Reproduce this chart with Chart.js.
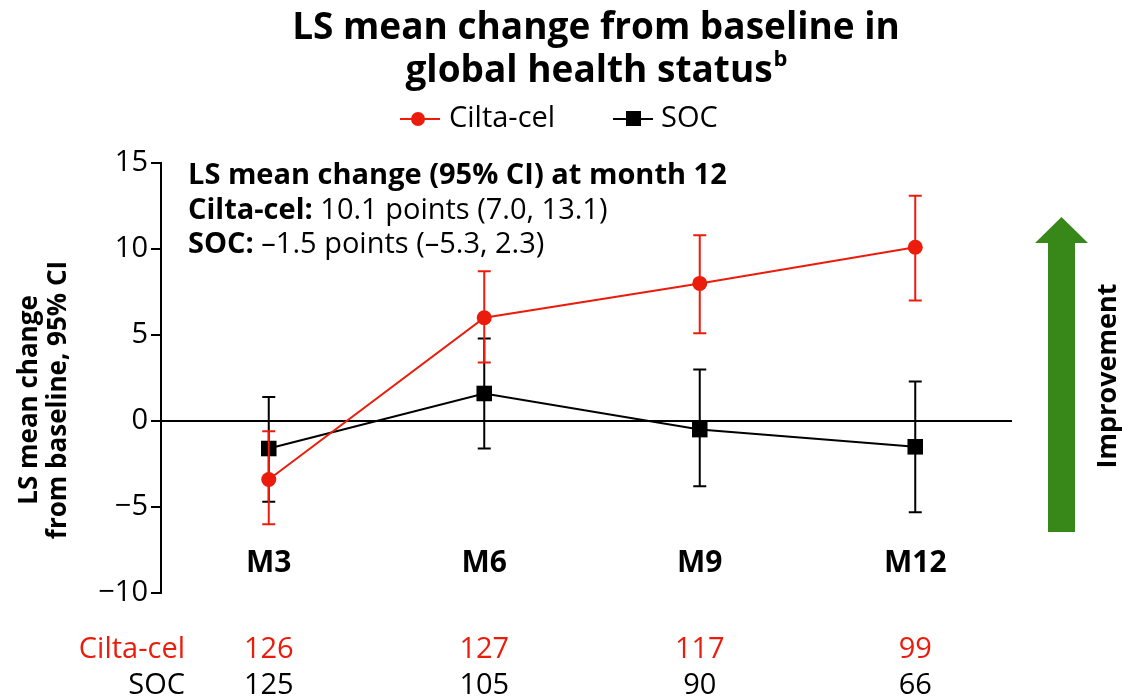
<!DOCTYPE html>
<html lang="en">
<head>
  <meta charset="UTF-8" />
  <title>LS mean change from baseline in global health status</title>
  <script src="https://cdn.jsdelivr.net/npm/chart.js"></script>
  <style>
    html, body { margin: 0; padding: 0; background: #fff; }
    #wrap { width: 1122px; height: 699px; position: relative; }
  </style>
</head>
<body>
  <div id="wrap"><canvas id="chart" width="1122" height="699"></canvas></div>

  <script>
    const categories = ['M3', 'M6', 'M9', 'M12'];
    const ciltaMean = [-3.4, 6.0, 8.0, 10.1];
    const ciltaLow  = [-6.0, 3.4, 5.1, 7.0];
    const ciltaHigh = [-0.6, 8.7, 10.8, 13.1];
    const socMean = [-1.6, 1.6, -0.5, -1.5];
    const socLow  = [-4.7, -1.6, -3.8, -5.3];
    const socHigh = [1.4, 4.8, 3.0, 2.3];
    const ciltaN = [126, 127, 117, 99];
    const socN = [125, 105, 90, 66];
    const yMin = -10, yMax = 15, yStep = 5;

    const RED = '#eb1c0c';
    const BLACK = '#000';
    const GREEN = '#378719';
    const FONT = "'Open Sans', sans-serif";

    // error bars, drawn right after each dataset
    const errorBars = {
      id: 'errorBars',
      afterDatasetDraw(chart, args) {
        const ds = chart.data.datasets[args.index];
        const meta = args.meta;
        const y = chart.scales.y;
        const ctx = chart.ctx;
        ctx.save();
        ctx.strokeStyle = ds.borderColor;
        ctx.lineWidth = 2;
        meta.data.forEach((pt, i) => {
          const x = pt.x;
          const lo = y.getPixelForValue(ds.low[i]);
          const hi = y.getPixelForValue(ds.high[i]);
          ctx.beginPath();
          ctx.moveTo(x, lo); ctx.lineTo(x, hi);
          ctx.moveTo(x - 6.5, lo); ctx.lineTo(x + 6.5, lo);
          ctx.moveTo(x - 6.5, hi); ctx.lineTo(x + 6.5, hi);
          ctx.stroke();
        });
        ctx.restore();
      }
    };

    // zero line, titles, legend, labels, table, arrow
    const decor = {
      id: 'decor',
      beforeDatasetsDraw(chart) {
        const ctx = chart.ctx;
        const y0 = chart.scales.y.getPixelForValue(0);
        ctx.save();
        ctx.strokeStyle = '#000';
        ctx.lineWidth = 2;
        ctx.beginPath();
        ctx.moveTo(chart.chartArea.left, y0);
        ctx.lineTo(1012, y0);
        ctx.stroke();
        ctx.restore();
      },
      afterDraw(chart) {
        const ctx = chart.ctx;
        const xs = chart.scales.x;
        ctx.save();
        ctx.fillStyle = '#000';
        ctx.textBaseline = 'middle';

        // title
        ctx.font = 'bold 37px ' + FONT;
        ctx.textAlign = 'center';
        ctx.fillText('LS mean change from baseline in', 596, 28);
        const t2 = 'global health status';
        const w2 = ctx.measureText(t2).width;
        ctx.font = 'bold 22px ' + FONT;
        const wb = ctx.measureText('b').width;
        ctx.font = 'bold 37px ' + FONT;
        ctx.textAlign = 'left';
        const sx = 596 - (w2 + wb) / 2;
        ctx.fillText(t2, sx, 71);
        ctx.font = 'bold 22px ' + FONT;
        ctx.fillText('b', sx + w2 + 1, 60);

        // legend
        ctx.lineWidth = 2;
        ctx.strokeStyle = RED;
        ctx.fillStyle = RED;
        ctx.beginPath(); ctx.moveTo(400, 119); ctx.lineTo(440, 119); ctx.stroke();
        ctx.beginPath(); ctx.arc(418, 119, 7, 0, Math.PI * 2); ctx.fill();
        ctx.strokeStyle = BLACK;
        ctx.fillStyle = BLACK;
        ctx.beginPath(); ctx.moveTo(613, 119); ctx.lineTo(653, 119); ctx.stroke();
        ctx.fillRect(626, 111, 15, 15);
        ctx.font = '29px ' + FONT;
        ctx.textAlign = 'left';
        ctx.fillText('Cilta-cel', 449, 119);
        ctx.fillText('SOC', 661, 119);

        // annotation
        ctx.font = 'bold 29px ' + FONT;
        ctx.fillText('LS mean change (95% CI) at month 12', 188, 176);
        const lab1 = 'Cilta-cel: ';
        ctx.fillText(lab1, 188, 211);
        let w = ctx.measureText(lab1).width;
        ctx.font = '29px ' + FONT;
        ctx.fillText('10.1 points (7.0, 13.1)', 188 + w, 211);
        ctx.font = 'bold 29px ' + FONT;
        const lab2 = 'SOC: ';
        ctx.fillText(lab2, 188, 245);
        w = ctx.measureText(lab2).width;
        ctx.font = '29px ' + FONT;
        ctx.fillText('\u20131.5 points (\u20135.3, 2.3)', 188 + w, 245);

        // category labels inside plot
        ctx.font = 'bold 30px ' + FONT;
        ctx.textAlign = 'center';
        categories.forEach((c, i) => ctx.fillText(c, xs.getPixelForValue(i), 563));

        // numbers at risk
        ctx.font = '29px ' + FONT;
        ctx.textAlign = 'right';
        ctx.fillStyle = RED;
        ctx.fillText('Cilta-cel', 185, 650);
        ctx.fillStyle = BLACK;
        ctx.fillText('SOC', 185, 686);
        ctx.textAlign = 'center';
        ciltaN.forEach((n, i) => { ctx.fillStyle = RED; ctx.fillText(String(n), xs.getPixelForValue(i), 650); });
        socN.forEach((n, i) => { ctx.fillStyle = BLACK; ctx.fillText(String(n), xs.getPixelForValue(i), 686); });

        // y axis title
        ctx.fillStyle = BLACK;
        ctx.font = 'bold 26px ' + FONT;
        ctx.save();
        ctx.translate(30, 400);
        ctx.rotate(-Math.PI / 2);
        ctx.fillText('LS mean change', 0, 0);
        ctx.restore();
        ctx.save();
        ctx.translate(59, 400);
        ctx.rotate(-Math.PI / 2);
        ctx.fillText('from baseline, 95% CI', 0, 0);
        ctx.restore();

        // improvement arrow
        ctx.fillStyle = GREEN;
        ctx.beginPath();
        ctx.moveTo(1061.5, 217);
        ctx.lineTo(1088, 243);
        ctx.lineTo(1075, 243);
        ctx.lineTo(1075, 532);
        ctx.lineTo(1048, 532);
        ctx.lineTo(1048, 243);
        ctx.lineTo(1035, 243);
        ctx.closePath();
        ctx.fill();
        ctx.fillStyle = BLACK;
        ctx.font = 'bold 27px ' + FONT;
        ctx.save();
        ctx.translate(1108, 376);
        ctx.rotate(-Math.PI / 2);
        ctx.fillText('Improvement', 0, 0);
        ctx.restore();

        ctx.restore();
      }
    };

    const ctx = document.getElementById('chart').getContext('2d');
    new Chart(ctx, {
      type: 'line',
      data: {
        labels: categories,
        datasets: [
          {
            label: 'Cilta-cel',
            data: ciltaMean,
            low: ciltaLow,
            high: ciltaHigh,
            borderColor: RED,
            backgroundColor: RED,
            borderWidth: 2,
            pointStyle: 'circle',
            pointRadius: 7.5,
            pointBorderWidth: 0,
            tension: 0
          },
          {
            label: 'SOC',
            data: socMean,
            low: socLow,
            high: socHigh,
            borderColor: BLACK,
            backgroundColor: BLACK,
            borderWidth: 2,
            pointStyle: 'rect',
            pointRadius: 11,
            pointBorderWidth: 0,
            tension: 0
          }
        ]
      },
      options: {
        responsive: false,
        animation: false,
        events: [],
        layout: { padding: { top: 163, bottom: 106, left: 0, right: 99 } },
        plugins: {
          legend: { display: false },
          title: { display: false },
          tooltip: { enabled: false }
        },
        scales: {
          x: {
            type: 'category',
            offset: true,
            display: false
          },
          y: {
            min: yMin,
            max: yMax,
            afterFit(scale) { scale.width = 161; },
            ticks: {
              stepSize: yStep,
              color: '#000',
              padding: 3,
              font: { family: FONT, size: 29 },
              callback: v => String(v).replace('-', '\u2212')
            },
            grid: {
              drawOnChartArea: false,
              drawTicks: true,
              tickLength: 10,
              color: '#000',
              lineWidth: 2
            },
            border: { display: true, color: '#000', width: 2 }
          }
        }
      },
      plugins: [errorBars, decor]
    });
  </script>
</body>
</html>
